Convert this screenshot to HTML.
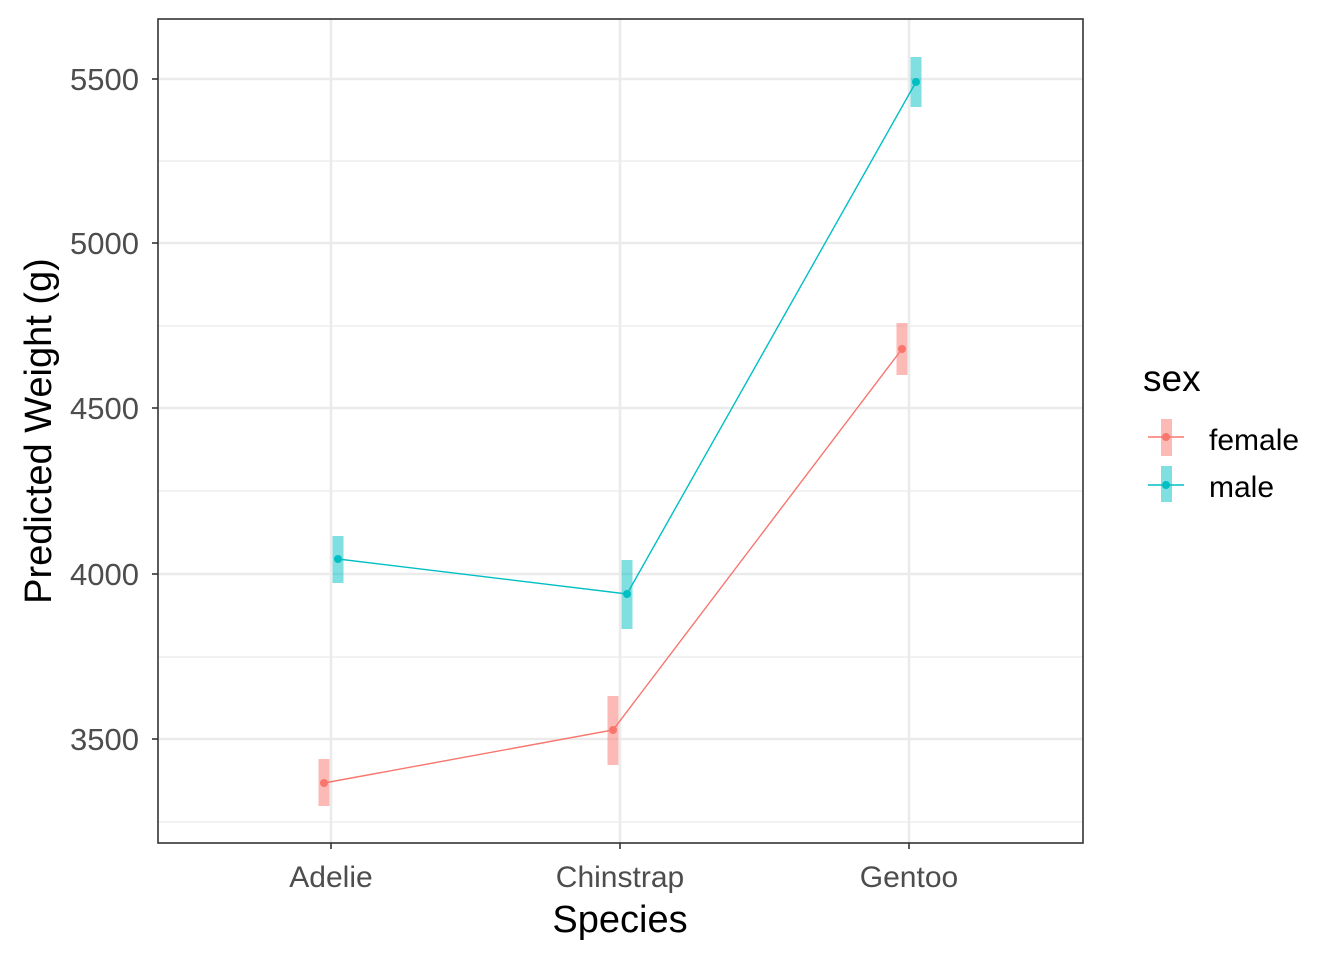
<!DOCTYPE html>
<html><head><meta charset="utf-8"><style>html,body{margin:0;padding:0;background:#fff}</style></head>
<body>
<svg width="1344" height="960" viewBox="0 0 1344 960" xmlns="http://www.w3.org/2000/svg" font-family="Liberation Sans, sans-serif">
<rect width="1344" height="960" fill="#fff"/>
<g stroke="#ebebeb" stroke-width="1.2">
<line x1="158" x2="1083" y1="161" y2="161"/><line x1="158" x2="1083" y1="326" y2="326"/>
<line x1="158" x2="1083" y1="491" y2="491"/><line x1="158" x2="1083" y1="657" y2="657"/>
<line x1="158" x2="1083" y1="822" y2="822"/>
</g>
<g stroke="#ebebeb" stroke-width="2.6">
<line x1="158" x2="1083" y1="79" y2="79"/><line x1="158" x2="1083" y1="243" y2="243"/>
<line x1="158" x2="1083" y1="408" y2="408"/><line x1="158" x2="1083" y1="574" y2="574"/>
<line x1="158" x2="1083" y1="739" y2="739"/>
<line x1="331" x2="331" y1="19" y2="843"/><line x1="620" x2="620" y1="19" y2="843"/><line x1="909" x2="909" y1="19" y2="843"/>
</g>
<g fill="#F8766D" fill-opacity="0.5">
<rect x="318.5" y="759" width="11" height="47"/><rect x="607.5" y="696" width="11" height="69"/><rect x="896.5" y="323" width="11" height="52"/>
</g>
<g fill="#00BFC4" fill-opacity="0.5">
<rect x="332.5" y="536" width="11" height="47"/><rect x="621.5" y="560" width="11" height="69"/><rect x="910.5" y="57" width="11" height="50"/>
</g>
<polyline points="324,783 613,730 902,349" fill="none" stroke="#F8766D" stroke-width="1.4"/>
<polyline points="338,559 627,594 916,82" fill="none" stroke="#00BFC4" stroke-width="1.4"/>
<g fill="#F8766D"><circle cx="324" cy="783" r="4"/><circle cx="613" cy="730" r="4"/><circle cx="902" cy="349" r="4"/></g>
<g fill="#00BFC4"><circle cx="338" cy="559" r="4"/><circle cx="627" cy="594" r="4"/><circle cx="916" cy="82" r="4"/></g>
<rect x="158" y="19" width="925" height="824" fill="none" stroke="#333" stroke-width="1.6"/>
<g stroke="#333" stroke-width="1.6">
<line x1="152" x2="158" y1="79" y2="79"/><line x1="152" x2="158" y1="243" y2="243"/><line x1="152" x2="158" y1="408" y2="408"/>
<line x1="152" x2="158" y1="574" y2="574"/><line x1="152" x2="158" y1="739" y2="739"/>
<line x1="331" x2="331" y1="843" y2="849"/><line x1="620" x2="620" y1="843" y2="849"/><line x1="909" x2="909" y1="843" y2="849"/>
</g>
<g fill="#4d4d4d" font-size="31" text-anchor="end">
<text x="139" y="90">5500</text><text x="139" y="254">5000</text><text x="139" y="419">4500</text>
<text x="139" y="585">4000</text><text x="139" y="750">3500</text>
</g>
<g fill="#4d4d4d" font-size="30" text-anchor="middle">
<text x="331" y="887">Adelie</text><text x="620" y="887">Chinstrap</text><text x="909" y="887">Gentoo</text>
</g>
<text x="620" y="932" font-size="38" text-anchor="middle" fill="#000">Species</text>
<text transform="translate(51,431) rotate(-90)" font-size="38" text-anchor="middle" fill="#000">Predicted Weight (g)</text>
<text x="1143" y="391" font-size="37" fill="#000">sex</text>
<rect x="1161" y="419" width="11" height="37" fill="#F8766D" fill-opacity="0.5"/>
<line x1="1148" x2="1184" y1="437" y2="437" stroke="#F8766D" stroke-width="1.4"/>
<circle cx="1166" cy="437" r="4" fill="#F8766D"/>
<rect x="1161" y="466" width="11" height="36" fill="#00BFC4" fill-opacity="0.5"/>
<line x1="1148" x2="1184" y1="485" y2="485" stroke="#00BFC4" stroke-width="1.4"/>
<circle cx="1166" cy="485" r="4" fill="#00BFC4"/>
<text x="1209" y="450" font-size="30" fill="#000">female</text>
<text x="1209" y="497" font-size="30" fill="#000">male</text>
</svg>
</body></html>
